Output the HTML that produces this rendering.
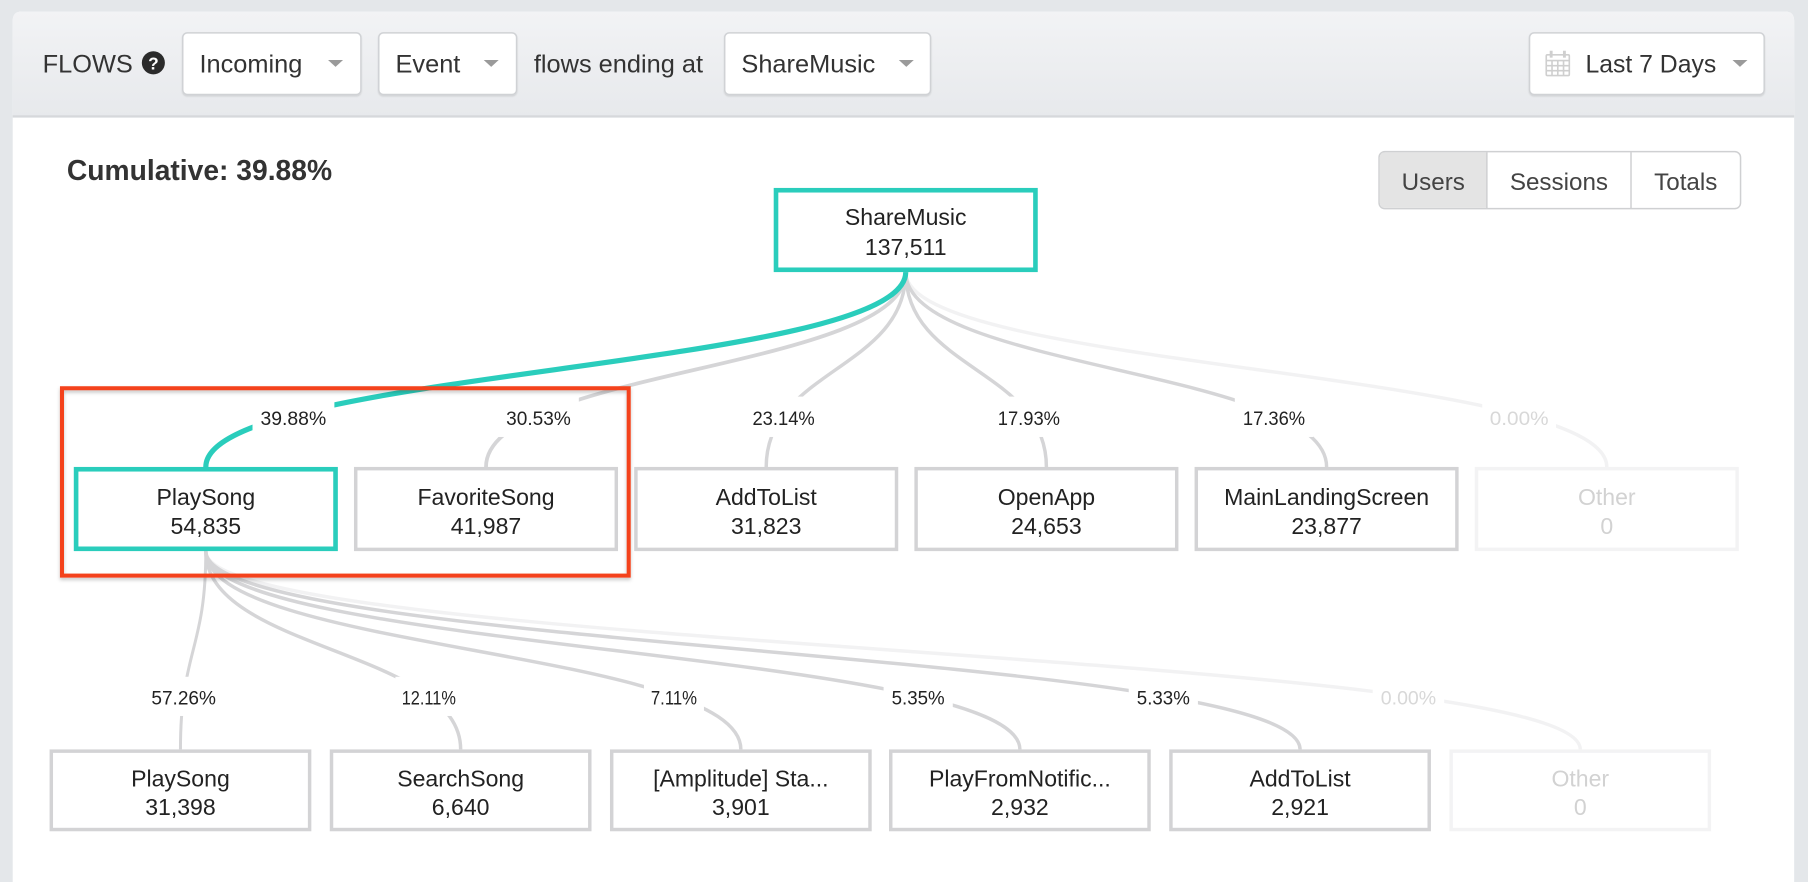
<!DOCTYPE html>
<html>
<head>
<meta charset="utf-8">
<style>
html,body{margin:0;padding:0;background:#e4e7ea;overflow:hidden;width:1808px;height:882px;}
svg{display:block;}
text{font-family:"Liberation Sans",Arial,sans-serif;}
</style>
</head>
<body>
<svg width="1808" height="882" viewBox="0 0 1568 765" preserveAspectRatio="none" xmlns="http://www.w3.org/2000/svg">
  <defs>
    <linearGradient id="hdr" x1="0" y1="0" x2="0" y2="1">
      <stop offset="0" stop-color="#f2f3f5"/>
      <stop offset="1" stop-color="#e7e9ec"/>
    </linearGradient>
    <filter id="sh" x="-5%" y="-5%" width="110%" height="115%">
      <feDropShadow dx="0" dy="2" stdDeviation="1.5" flood-color="#000" flood-opacity="0.22"/>
    </filter>
    <filter id="sh2" x="-5%" y="-5%" width="110%" height="120%">
      <feDropShadow dx="0" dy="1" stdDeviation="0.6" flood-color="#000" flood-opacity="0.12"/>
    </filter>
  </defs>

  <!-- page bg -->
  <rect x="0" y="0" width="1568" height="765" fill="#e4e7ea"/>
  <!-- card -->
  <path d="M11,765 L11,18 Q11,10 19,10 L1548,10 Q1556,10 1556,18 L1556,765 Z" fill="#ffffff"/>
  <!-- header -->
  <path d="M11,101 L11,18 Q11,10 19,10 L1548,10 Q1556,10 1556,18 L1556,101 Z" fill="url(#hdr)"/>
  <rect x="11" y="100" width="1545" height="2" fill="#d6d8db"/>

  <!-- header content -->
  <text x="37" y="63" font-size="22" fill="#333">FLOWS</text>
  <circle cx="133" cy="54.5" r="10" fill="#2b2b2b"/>
  <text x="133" y="60.5" font-size="15" font-weight="bold" fill="#fff" text-anchor="middle">?</text>

  <g filter="url(#sh2)">
    <rect x="158.5" y="28.5" width="154.5" height="53.5" rx="4" fill="#fff" stroke="#d0d2d5" stroke-width="1.3"/>
    <rect x="328.5" y="28.5" width="119.5" height="53.5" rx="4" fill="#fff" stroke="#d0d2d5" stroke-width="1.3"/>
    <rect x="628.5" y="28.5" width="178.5" height="53.5" rx="4" fill="#fff" stroke="#d0d2d5" stroke-width="1.3"/>
    <rect x="1326.5" y="28.5" width="203.5" height="53.5" rx="4" fill="#fff" stroke="#d0d2d5" stroke-width="1.3"/>
  </g>
  <text x="173" y="63" font-size="22" fill="#333">Incoming</text>
  <polygon points="284.5,52 297.5,52 291,58" fill="#9a9a9a"/>
  <text x="343" y="63" font-size="22" fill="#333">Event</text>
  <polygon points="419.5,52 432.5,52 426,58" fill="#9a9a9a"/>
  <text x="463" y="63" font-size="22" fill="#333">flows ending at</text>
  <text x="643" y="63" font-size="22" fill="#333">ShareMusic</text>
  <polygon points="779.5,52 792.5,52 786,58" fill="#9a9a9a"/>
  <!-- calendar icon -->
  <g fill="none" stroke="#cfcfcf" stroke-width="1.4">
    <rect x="1341" y="47.5" width="20" height="18" rx="1"/>
    <line x1="1341" y1="52.5" x2="1361" y2="52.5"/>
    <line x1="1341" y1="57" x2="1361" y2="57"/>
    <line x1="1341" y1="61.3" x2="1361" y2="61.3"/>
    <line x1="1346" y1="52.5" x2="1346" y2="65.5"/>
    <line x1="1351" y1="52.5" x2="1351" y2="65.5"/>
    <line x1="1356" y1="52.5" x2="1356" y2="65.5"/>
  </g>
  <rect x="1344" y="44" width="2.5" height="6" fill="#cfcfcf"/>
  <rect x="1355.5" y="44" width="2.5" height="6" fill="#cfcfcf"/>
  <text x="1375" y="63" font-size="21.5" fill="#333">Last 7 Days</text>
  <polygon points="1502.5,52 1515.5,52 1509,58" fill="#9a9a9a"/>

  <!-- cumulative -->
  <text x="58" y="156" font-size="24.5" font-weight="bold" fill="#333">Cumulative: 39.88%</text>

  <!-- segmented control -->
  <rect x="1196" y="131.5" width="313.5" height="49.5" rx="5" fill="#fff" stroke="#cfd0d2" stroke-width="1.3"/>
  <path d="M1201,132.2 L1289.5,132.2 L1289.5,180.3 L1201,180.3 Q1196.7,180.3 1196.7,176 L1196.7,136.5 Q1196.7,132.2 1201,132.2 Z" fill="#e4e4e4"/>
  <line x1="1289.5" y1="132" x2="1289.5" y2="181" stroke="#cfd0d2" stroke-width="1.3"/>
  <line x1="1414.5" y1="132" x2="1414.5" y2="181" stroke="#cfd0d2" stroke-width="1.3"/>
  <text x="1243" y="165" font-size="21" fill="#444" text-anchor="middle">Users</text>
  <text x="1352" y="165" font-size="21" fill="#444" text-anchor="middle">Sessions</text>
  <text x="1462" y="165" font-size="21" fill="#444" text-anchor="middle">Totals</text>

  <!-- level 1 links -->
  <g fill="none" stroke-linecap="butt">
    <path d="M785.5,236 C785.5,320.5 1393.5,320.5 1393.5,405" stroke="#f2f2f3" stroke-width="3"/>
    <path d="M785.5,236 C785.5,320.5 1150.5,320.5 1150.5,405" stroke="#d5d5d7" stroke-width="3"/>
    <path d="M785.5,236 C785.5,320.5 907.5,320.5 907.5,405" stroke="#d5d5d7" stroke-width="3"/>
    <path d="M785.5,236 C785.5,320.5 664.5,320.5 664.5,405" stroke="#d5d5d7" stroke-width="3"/>
    <path d="M785.5,236 C785.5,320.5 421.5,320.5 421.5,405" stroke="#d5d5d7" stroke-width="3.3"/>
    <path d="M785.5,236 C785.5,320.5 178.5,320.5 178.5,405" stroke="#2acdbc" stroke-width="4.5"/>
  </g>

  <!-- level 2 links -->
  <g fill="none">
    <path d="M178.5,478 C178.5,564 1370.5,564 1370.5,650" stroke="#f2f2f3" stroke-width="3"/>
    <path d="M178.5,478 C178.5,564 1127.5,564 1127.5,650" stroke="#d5d5d7" stroke-width="3"/>
    <path d="M178.5,478 C178.5,564 884.5,564 884.5,650" stroke="#d5d5d7" stroke-width="3"/>
    <path d="M178.5,478 C178.5,564 642.5,564 642.5,650" stroke="#d5d5d7" stroke-width="3"/>
    <path d="M178.5,478 C178.5,564 399.5,564 399.5,650" stroke="#d5d5d7" stroke-width="3"/>
    <path d="M178.5,478 C178.5,564 156.5,564 156.5,650" stroke="#d5d5d7" stroke-width="2.6"/>
  </g>

  <!-- level 1 labels -->
  <g fill="#fff">
    <rect x="219" y="344" width="71" height="35"/>
    <rect x="432" y="344" width="70" height="35"/>
    <rect x="645.6" y="344" width="68" height="35"/>
    <rect x="858.3" y="344" width="68" height="35"/>
    <rect x="1070.9" y="344" width="68" height="35"/>
    <rect x="1285.5" y="344" width="64" height="35"/>
  </g>
  <g font-size="17" fill="#222" text-anchor="middle">
    <text x="254.4" y="368.5" textLength="57" lengthAdjust="spacingAndGlyphs">39.88%</text>
    <text x="467" y="368.5" textLength="56" lengthAdjust="spacingAndGlyphs">30.53%</text>
    <text x="679.6" y="368.5" textLength="54" lengthAdjust="spacingAndGlyphs">23.14%</text>
    <text x="892.3" y="368.5" textLength="54" lengthAdjust="spacingAndGlyphs">17.93%</text>
    <text x="1104.9" y="368.5" textLength="54" lengthAdjust="spacingAndGlyphs">17.36%</text>
    <text x="1317.5" y="368.5" textLength="51" lengthAdjust="spacingAndGlyphs" fill="#d8d8d8">0.00%</text>
  </g>

  <!-- level 2 labels -->
  <g fill="#fff">
    <rect x="124.3" y="587" width="70" height="34"/>
    <rect x="342.9" y="587" width="58" height="34"/>
    <rect x="558.5" y="587" width="52" height="34"/>
    <rect x="766.3" y="587" width="60" height="34"/>
    <rect x="978.9" y="587" width="60" height="34"/>
    <rect x="1190.5" y="587" width="62" height="34"/>
  </g>
  <g font-size="17" fill="#222" text-anchor="middle">
    <text x="159.3" y="611" textLength="56" lengthAdjust="spacingAndGlyphs">57.26%</text>
    <text x="371.9" y="611" textLength="47" lengthAdjust="spacingAndGlyphs">12.11%</text>
    <text x="584.5" y="611" textLength="40" lengthAdjust="spacingAndGlyphs">7.11%</text>
    <text x="796.3" y="611" textLength="46" lengthAdjust="spacingAndGlyphs">5.35%</text>
    <text x="1008.9" y="611" textLength="46" lengthAdjust="spacingAndGlyphs">5.33%</text>
    <text x="1221.5" y="611" textLength="48" lengthAdjust="spacingAndGlyphs" fill="#d8d8d8">0.00%</text>
  </g>

  <!-- root node -->
  <rect x="673" y="165" width="225" height="69" fill="#fff" stroke="#2acdbc" stroke-width="4"/>
  <text x="785.5" y="195" font-size="20" fill="#222" text-anchor="middle">ShareMusic</text>
  <text x="785.5" y="221" font-size="20" fill="#222" text-anchor="middle">137,511</text>

  <!-- level 1 nodes -->
  <rect x="66" y="407" width="225" height="69" fill="#fff" stroke="#2acdbc" stroke-width="4"/>
  <g fill="#fff" stroke="#d3d3d5" stroke-width="3">
    <rect x="308.5" y="406.5" width="226" height="70"/>
    <rect x="551.5" y="406.5" width="226" height="70"/>
    <rect x="794.5" y="406.5" width="226" height="70"/>
    <rect x="1037.5" y="406.5" width="226" height="70"/>
  </g>
  <rect x="1280.5" y="406.5" width="226" height="70" fill="#fff" stroke="#f3f3f4" stroke-width="3"/>
  <g font-size="20" fill="#222" text-anchor="middle">
    <text x="178.5" y="438">PlaySong</text>
    <text x="178.5" y="463">54,835</text>
    <text x="421.5" y="438">FavoriteSong</text>
    <text x="421.5" y="463">41,987</text>
    <text x="664.5" y="438">AddToList</text>
    <text x="664.5" y="463">31,823</text>
    <text x="907.5" y="438">OpenApp</text>
    <text x="907.5" y="463">24,653</text>
    <text x="1150.5" y="438">MainLandingScreen</text>
    <text x="1150.5" y="463">23,877</text>
    <text x="1393.5" y="438" fill="#d2d2d2">Other</text>
    <text x="1393.5" y="463" fill="#d2d2d2">0</text>
  </g>

  <!-- level 2 nodes -->
  <g fill="#fff" stroke="#d3d3d5" stroke-width="3">
    <rect x="44.5" y="651.5" width="224" height="68"/>
    <rect x="287.5" y="651.5" width="224" height="68"/>
    <rect x="530.5" y="651.5" width="224" height="68"/>
    <rect x="772.5" y="651.5" width="224" height="68"/>
    <rect x="1015.5" y="651.5" width="224" height="68"/>
  </g>
  <rect x="1258.5" y="651.5" width="224" height="68" fill="#fff" stroke="#f3f3f4" stroke-width="3"/>
  <g font-size="20" fill="#222" text-anchor="middle">
    <text x="156.5" y="682">PlaySong</text>
    <text x="156.5" y="707">31,398</text>
    <text x="399.5" y="682">SearchSong</text>
    <text x="399.5" y="707">6,640</text>
    <text x="642.5" y="682">[Amplitude] Sta...</text>
    <text x="642.5" y="707">3,901</text>
    <text x="884.5" y="682">PlayFromNotific...</text>
    <text x="884.5" y="707">2,932</text>
    <text x="1127.5" y="682">AddToList</text>
    <text x="1127.5" y="707">2,921</text>
    <text x="1370.5" y="682" fill="#d2d2d2">Other</text>
    <text x="1370.5" y="707" fill="#d2d2d2">0</text>
  </g>

  <!-- red highlight box -->
  <rect x="53.75" y="336.75" width="491.5" height="162.5" fill="none" stroke="#f4431c" stroke-width="3.5" filter="url(#sh)"/>
</svg>
</body>
</html>
